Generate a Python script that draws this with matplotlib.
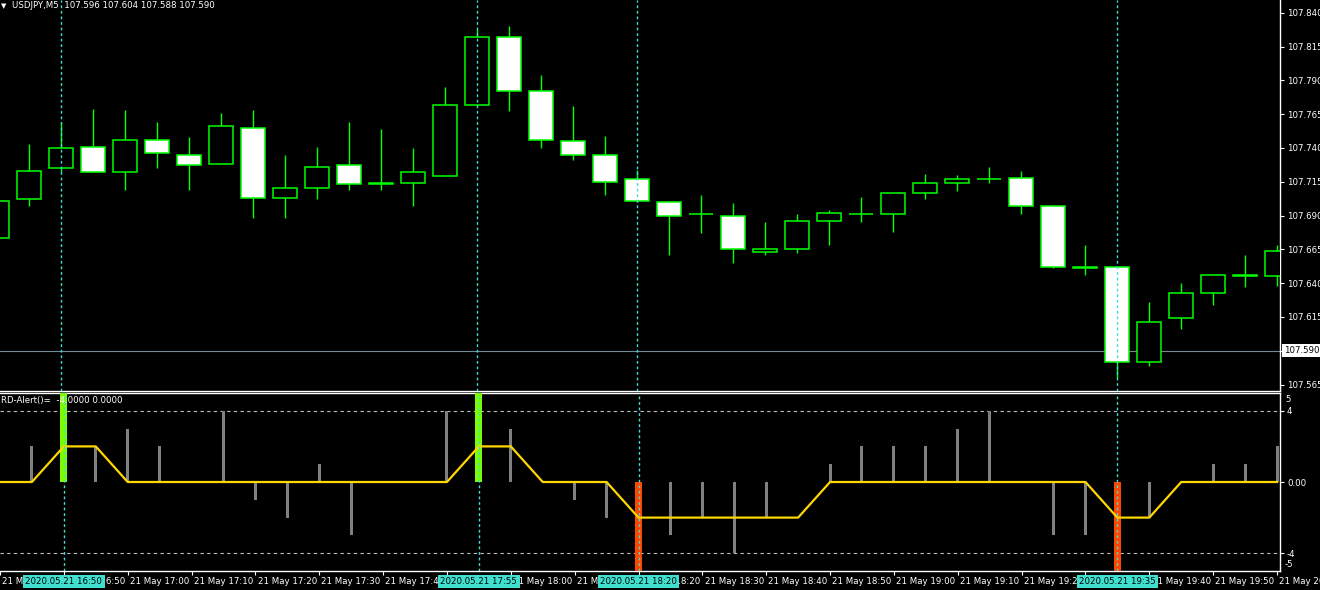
import matplotlib
matplotlib.use("Agg")
import matplotlib.pyplot as plt
import matplotlib.transforms as mtransforms
import numpy as np

# ---------------- data ----------------
# bar index 0 = 21 May 16:50 (M5 bars), from 16:40 to 20:00
bar_index = list(range(-2, 39))
opens = [107.673, 107.702, 107.725, 107.741, 107.722, 107.746, 107.735, 107.728, 107.755, 107.703,
         107.710, 107.727, 107.714, 107.714, 107.719, 107.772, 107.822, 107.782, 107.745, 107.735,
         107.717, 107.700, 107.691, 107.690, 107.663, 107.665, 107.686, 107.691, 107.691, 107.707,
         107.714, 107.717, 107.718, 107.697, 107.651, 107.652, 107.582, 107.614, 107.633, 107.645,
         107.645]
highs = [107.706, 107.743, 107.759, 107.769, 107.768, 107.759, 107.748, 107.766, 107.768, 107.735,
         107.741, 107.759, 107.754, 107.740, 107.785, 107.828, 107.830, 107.794, 107.771, 107.749,
         107.724, 107.701, 107.705, 107.699, 107.685, 107.691, 107.694, 107.704, 107.707, 107.721,
         107.720, 107.726, 107.723, 107.698, 107.668, 107.652, 107.626, 107.640, 107.647, 107.661,
         107.668]
lows = [107.668, 107.697, 107.722, 107.722, 107.709, 107.725, 107.709, 107.728, 107.688, 107.688,
        107.702, 107.709, 107.709, 107.697, 107.719, 107.772, 107.767, 107.740, 107.731, 107.705,
        107.700, 107.661, 107.677, 107.655, 107.661, 107.662, 107.668, 107.685, 107.678, 107.702,
        107.708, 107.714, 107.691, 107.651, 107.646, 107.570, 107.579, 107.606, 107.624, 107.637,
        107.638]
closes = [107.701, 107.723, 107.740, 107.722, 107.746, 107.736, 107.727, 107.756, 107.703, 107.710,
          107.726, 107.713, 107.713, 107.722, 107.772, 107.822, 107.782, 107.746, 107.735, 107.715,
          107.701, 107.690, 107.691, 107.665, 107.665, 107.686, 107.692, 107.691, 107.707, 107.714,
          107.717, 107.717, 107.697, 107.652, 107.652, 107.582, 107.611, 107.633, 107.646, 107.646,
          107.664]

# RD-Alert indicator
hist_values = [0, 2, 0, 2, 3, 2, 0, 4, -1, -2,
               1, -3, 0, 0, 4, 0, 3, 0, -1, -2,
               0, -3, -2, -4, -2, 0, 1, 2, 2, 2,
               3, 4, 0, -3, -3, 0, -2, 0, 1, 1,
               2]
signal_values = [0, 0, 5, 0, 0, 0, 0, 0, 0, 0,
                 0, 0, 0, 0, 0, 5, 0, 0, 0, 0,
                 -5, 0, 0, 0, 0, 0, 0, 0, 0, 0,
                 0, 0, 0, 0, 0, -5, 0, 0, 0, 0,
                 0]
line_values = [0, 0, 2, 2, 0, 0, 0, 0, 0, 0,
               0, 0, 0, 0, 0, 2, 2, 0, 0, 0,
               -2, -2, -2, -2, -2, -2, 0, 0, 0, 0,
               0, 0, 0, 0, 0, -2, -2, 0, 0, 0,
               0]

price_ticks = [107.565, 107.590, 107.615, 107.640, 107.665, 107.690,
               107.715, 107.740, 107.765, 107.790, 107.815, 107.840]
current_price = 107.590

time_tick_index = list(range(-2, 39, 2))
time_tick_labels = ["21 May 16:40", "21 May 16:50", "21 May 17:00", "21 May 17:10", "21 May 17:20",
                    "21 May 17:30", "21 May 17:40", "21 May 17:50", "21 May 18:00", "21 May 18:10",
                    "21 May 18:20", "21 May 18:30", "21 May 18:40", "21 May 18:50", "21 May 19:00",
                    "21 May 19:10", "21 May 19:20", "21 May 19:30", "21 May 19:40", "21 May 19:50",
                    "21 May 20:00"]
marker_index = [0, 13, 18, 33]
marker_labels = ["2020.05.21 16:50", "2020.05.21 17:55", "2020.05.21 18:20", "2020.05.21 19:35"]

header_text = "USDJPY,M5  107.596 107.604 107.588 107.590"
indicator_text = "RD-Alert()=  -4.0000 0.0000"

# ---------------- style ----------------
plt.rcParams['font.family'] = ['DejaVu Sans']
FS = 6.2
LIME = "#00FF00"
CYAN = "#40E0D0"
W, H = 1320, 590

fig = plt.figure(figsize=(W / 100, H / 100), dpi=100, facecolor="black")


def px_axes(left, top, right, bottom):
    return fig.add_axes([left / W, 1 - bottom / H, (right - left) / W, (bottom - top) / H])


ax = px_axes(0, 0, 1280, 391)
ax2 = px_axes(0, 393, 1280, 571)
for a in (ax, ax2):
    a.set_facecolor("black")
    for s in a.spines.values():
        s.set_color("white")
        s.set_linewidth(1.0)
    a.spines["left"].set_visible(False)
ax.spines["top"].set_visible(False)

xs = np.array(bar_index)
o = np.array(opens); h = np.array(highs); l = np.array(lows); c = np.array(closes)
xlim = (-61 / 32, 1219 / 32)

# ---------------- candles ----------------
bull = c >= o
bottoms = np.minimum(o, c)
heights = np.abs(c - o)
faces = ["black" if b else "white" for b in bull]
ax.vlines(xs, l, h, color=LIME, lw=1.0, zorder=2)
ax.bar(xs, heights, bottom=bottoms, width=0.72, color=faces, edgecolor=LIME, linewidth=1.1, zorder=3)
ax.axhline(current_price, color="#778899", lw=0.8, zorder=1)
for k in marker_index:
    ax.axvline(k, color=CYAN, lw=1.0, ls=(0, (2.0, 2.0)), zorder=5)

ax.set_xlim(*xlim)
ax.set_ylim(107.590 - (391 - 350.7) / 1352, 107.590 + 350.7 / 1352)
ax.set_xticks([])
ax.yaxis.tick_right()
ax.set_yticks(price_ticks)
ax.set_yticklabels([f"{p:.3f}" for p in price_ticks])
ax.tick_params(axis="y", colors="white", direction="out", length=3, width=0.8,
               labelsize=FS, pad=2)

trans_p = mtransforms.blended_transform_factory(ax.transAxes, ax.transData)
ax.text(1.0 + 4 / 1280, current_price, f"{current_price:.3f}", transform=trans_p,
        ha="left", va="center", color="black", fontsize=FS, zorder=10, clip_on=False,
        bbox=dict(facecolor="white", edgecolor="none", pad=1.6))

fig.text(1 / W, 1 - 6 / H, "▼", color="white", fontsize=5, va="center", ha="left")
fig.text(12 / W, 1 - 6 / H, header_text, color="white", fontsize=FS, va="center", ha="left")

# ---------------- indicator ----------------
ax2.bar(xs, hist_values, width=3 / 32, color="#808080", zorder=2)
sig = np.array(signal_values)
sig_colors = ["#7CFC00" if v > 0 else "#FF4500" for v in sig]
ax2.bar(xs, sig, width=7 / 32, color=sig_colors, zorder=3)
ax2.plot(xs, line_values, color="#FFD700", lw=1.6, zorder=4)
for lvl in (4, -4):
    ax2.axhline(lvl, color="#c0c0c0", lw=0.8, ls=(0, (3, 3)), zorder=1)
for k in marker_index:
    ax2.axvline(k, color=CYAN, lw=1.0, ls=(0, (2.0, 2.0)), zorder=5)

ax2.set_xlim(*xlim)
ax2.set_ylim(-5, 5)
ax2.yaxis.tick_right()
ax2.set_yticks([4, 0, -4])
ax2.set_yticklabels(["4", "0.00", "-4"])
ax2.tick_params(axis="y", colors="white", direction="out", length=3, width=0.8,
                labelsize=FS, pad=2)
trans_i = mtransforms.blended_transform_factory(ax2.transAxes, ax2.transData)
for val, lab in ((4.62, "5"), (-4.62, "-5")):
    ax2.text(1.0 + 5 / 1280, val, lab, transform=trans_i, ha="left", va="center",
             color="white", fontsize=FS, clip_on=False)

ax2.set_xticks(time_tick_index)
ax2.set_xticklabels([])
ax2.tick_params(axis="x", colors="white", direction="out", length=3, width=0.8)

trans_t = mtransforms.blended_transform_factory(ax2.transData, ax2.transAxes)
ty = -10.5 / 178
for k, lab in zip(time_tick_index, time_tick_labels):
    ax2.text(k + 0.07, ty, lab, transform=trans_t, ha="left", va="center",
             color="white", fontsize=FS, clip_on=False)
for k, lab in zip(marker_index, marker_labels):
    ax2.text(k, ty, lab, transform=trans_t, ha="center", va="center", color="black",
             fontsize=FS, clip_on=False, zorder=10,
             bbox=dict(facecolor=CYAN, edgecolor="none", pad=1.6))

ax2.text(1 / 1280, 1 - 8 / 178, indicator_text, transform=ax2.transAxes, ha="left", va="center",
         color="white", fontsize=FS, zorder=6)

fig.savefig("out.png", dpi=100, facecolor="black")
